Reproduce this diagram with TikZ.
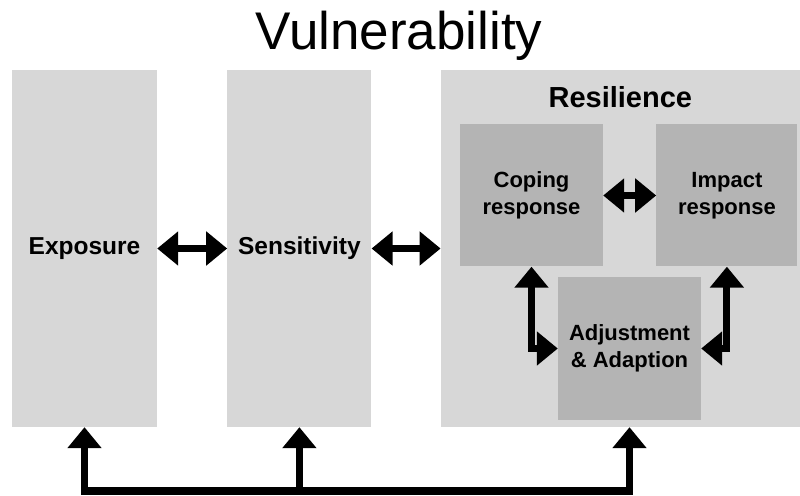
\documentclass[tikz,border=0pt]{standalone}
\usepackage{fontspec}
\setmainfont{Liberation Sans}
\usetikzlibrary{arrows.meta,positioning}
\definecolor{boxgray}{RGB}{215,215,215}
\definecolor{innergray}{RGB}{180,180,180}

\begin{document}
\begin{tikzpicture}[x=1pt,y=1pt,node distance=70pt,>={Triangle[width=33pt,length=21pt]}]
  \tikzstyle{outer box}=[rectangle,fill=boxgray,minimum height=357pt,inner sep=0pt,font=\bfseries\fontsize{24.5}{29}\selectfont]
  \tikzstyle{inner box}=[rectangle,fill=innergray,minimum height=142pt,inner sep=0pt,align=center,font=\bfseries\fontsize{22}{27}\selectfont]
  \tikzstyle{fat arrow}=[line width=7pt]
  \useasboundingbox (0,0) rectangle (800,495);

  \node[anchor=base,font=\fontsize{53}{60}\selectfont] (title) at (399,445) {Vulnerability};

  \node[outer box,minimum width=145pt] (expo) at (84.5,246.5) {Exposure};
  \node[outer box,minimum width=144pt] (sens) [right=70pt of expo] {Sensitivity};
  \node[outer box,minimum width=359pt] (resil) [right=69pt of sens] {};
  \node[inner sep=0pt,font=\bfseries\fontsize{29}{34}\selectfont] (resiltitle) [below=16.5pt of resil.north] {Resilience};

  \node[inner box,minimum width=143pt] (coping) at (531.5,299.5) {Coping\\response};
  \node[inner box,minimum width=141pt] (impact) [right=53pt of coping] {Impact\\response};
  \node[inner box,minimum width=143pt,minimum height=143pt] (adjust) at (629.5,146.5) {Adjustment\\\& Adaption};

  \coordinate (busline) at (0,4);

  \path[fat arrow,<->]
  (expo) edge (sens)
  (sens) edge (resil)
  (coping) edge (impact);

  \draw[fat arrow,<->] (coping.south) |- (adjust.west);
  \draw[fat arrow,<->] (impact.south) |- (adjust.east);

  \draw[fat arrow,<->] (expo.south) |- (sens.south |- busline) -| (adjust.south |- resil.south);
  \draw[fat arrow,->] (sens.south |- busline) -- (sens.south);
\end{tikzpicture}
\end{document}
